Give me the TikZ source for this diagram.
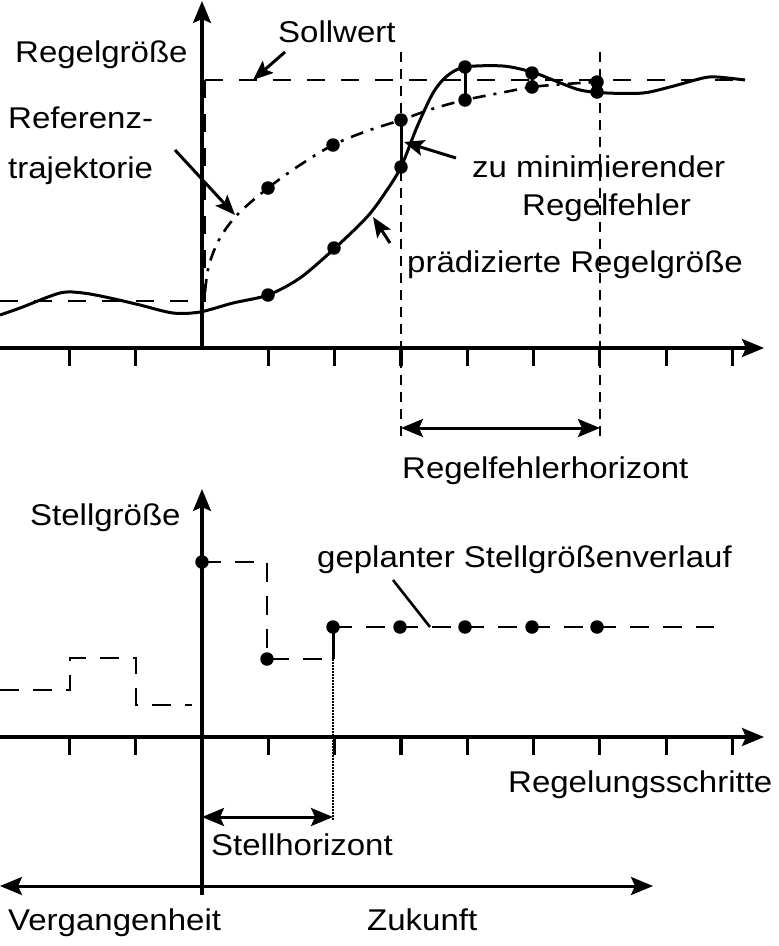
\documentclass[tikz,border=0pt]{standalone}
\usepackage{fontspec}
\setmainfont{Liberation Sans}[FakeStretch=1.1]
\usetikzlibrary{arrows.meta}
\begin{document}
\begin{tikzpicture}[x=1pt,y=-1pt,
  axisline/.style={line width=3.2pt,-{Stealth[length=22pt,width=18pt,inset=4pt]}},
  tickmark/.style={line width=3.2pt},
  curve/.style={line width=3pt,line join=round},
  sollline/.style={line width=2.8pt,dash pattern=on 18pt off 16pt},
  refline/.style={line width=2.6pt,dash pattern=on 13pt off 8pt on 3pt off 8pt},
  horline/.style={line width=2.4pt,dash pattern=on 10pt off 7pt},
  stepline/.style={line width=2.6pt,dash pattern=on 19pt off 14pt},
  annarrow/.style={line width=3pt,-{Stealth[length=20pt,width=16pt,inset=4pt]}},
  dblarrow/.style={line width=3pt,{Stealth[length=22pt,width=18pt,inset=4pt]}-{Stealth[length=22pt,width=18pt,inset=4pt]}},
  lbl/.style={inner sep=0pt,anchor=base west,font=\fontsize{30}{36}\selectfont},
  dot/.style={circle,fill,inner sep=0pt,minimum size=13.5pt}]
\useasboundingbox (0,0) rectangle (779,946);

% ---------------- top panel ----------------
\draw[axisline] (0,348) -- (764,348);
\draw[axisline] (202,348) -- (202,1);
\foreach \k in {-2,-1,1,2,3,4,5,6,7,8}
  \draw[tickmark] ({202+66.3*\k},346) -- ({202+66.3*\k},366);

% horizon lines
\draw[horline] (401,52) -- (401,438);
\draw[horline] (600,52) -- (600,438);

% setpoint
\draw[sollline] (0,301) -- (200,301);
\draw[sollline] (205,80) -- (205,302);
\draw[sollline] (205,80) -- (748,80);

% reference trajectory
\draw[refline] plot[smooth,tension=0.55] coordinates {(205,292) (209,265) (220,238) (238,214) (268,188) (300,165) (333,145) (367,131) (401,120) (432,109) (465,100) (500,93) (532,87) (565,84) (597,82)};

% controlled variable
\draw[curve] plot[smooth,tension=0.5] coordinates {(0,315) (20,308) (60,293) (83,293) (110,298) (140,305) (173,313) (200,312) (233,303) (268,295) (300,278) (335,248) (367,217) (385,193) (401,167) (417,127) (433,93) (447,76) (465,67) (503,66) (532,72) (553,80) (580,90) (607,93) (643,93) (670,87) (703,78) (717,77) (745,80)};

% error lines
\draw[curve] (401,120) -- (401,167);
\draw[curve] (465,67) -- (465,100);
\draw[curve] (532,73) -- (532,87);
\draw[curve] (597,82) -- (597,92);

% dots
\foreach \p/\n in {(268,188)/r1,(333,145)/r2,(401,120)/r3,(465,100)/r4,(532,87)/r5,(597,82)/r6,
                   (268,295)/y1,(334,248)/y2,(401,167)/y3,(465,67)/y4,(532,73)/y5,(597,92)/y6}
  \node[dot] (\n) at \p {};

% labels top
\node[lbl] (regel) at (15,62) {Regelgröße};
\node[lbl] (soll) at (278,42) {Sollwert};
\node[lbl] (ref1) at (8,128) {Referenz-};
\node[lbl] (ref2) at (8,178) {trajektorie};
\node[lbl] (zu) at (472,177) {zu minimierender};
\node[lbl] (rf) at (522,215) {Regelfehler};
\node[lbl] (praed) at (407,272) {prädizierte Regelgröße};
\node[lbl] (rfh) at (402,478) {Regelfehlerhorizont};

\coordinate (sA) at (285,52);  \coordinate (sB) at (253,80);
\coordinate (rA) at (175,150); \coordinate (rB) at (235,215);
\coordinate (zA) at (456,158); \coordinate (zB) at (404,142);
\coordinate (pA) at (390,243); \coordinate (pB) at (373,217);
\draw[annarrow] (sA) -- (sB);
\draw[annarrow] (rA) -- (rB);
\draw[annarrow] (zA) -- (zB);
\draw[annarrow] (pA) -- (pB);

\coordinate (hA) at (401,428); \coordinate (hB) at (600,428);
\draw[dblarrow] (hA) -- (hB);

% ---------------- bottom panel ----------------
\draw[axisline] (0,737) -- (764,737);
\draw[axisline] (202,895) -- (202,489);
\foreach \k in {-2,-1,1,2,3,4,5,6,7,8}
  \draw[tickmark] ({202+66.3*\k},735) -- ({202+66.3*\k},755);

\draw[stepline] (0,690) -- (70,690) -- (70,658) -- (136,658) -- (136,705) -- (192,705);
\draw[stepline] (202,562) -- (267,562) -- (267,659) -- (333,659);
\draw[curve] (333,659) -- (333,627);
\draw[line width=1.2pt,dash pattern=on 1.5pt off 1.5pt] (333,659) -- (333,820);
\draw[stepline] (333,627) -- (714,627);

\foreach \p/\n in {(202,562)/u0,(267,659)/u1,(333,627)/u2,(400,627)/u3,(465,627)/u4,(532,627)/u5,(597,627)/u6}
  \node[dot] (\n) at \p {};

\node[lbl] (stell) at (30,525) {Stellgröße};
\node[lbl] (gepl) at (317,567) {geplanter Stellgrößenverlauf};
\node[lbl] (schr) at (508,792) {Regelungsschritte};
\node[lbl] (sth) at (211,855) {Stellhorizont};
\node[lbl] (verg) at (8,930) {Vergangenheit};
\node[lbl] (zuk) at (367,930) {Zukunft};

\coordinate (gA) at (393,580); \coordinate (gB) at (430,627);
\draw[line width=2.6pt] (gA) -- (gB);

\coordinate (stA) at (202,817); \coordinate (stB) at (333,817);
\draw[dblarrow] (stA) -- (stB);

\coordinate (tA) at (0,886); \coordinate (tB) at (653,886);
\draw[dblarrow] (tA) -- (tB);
\end{tikzpicture}
\end{document}
